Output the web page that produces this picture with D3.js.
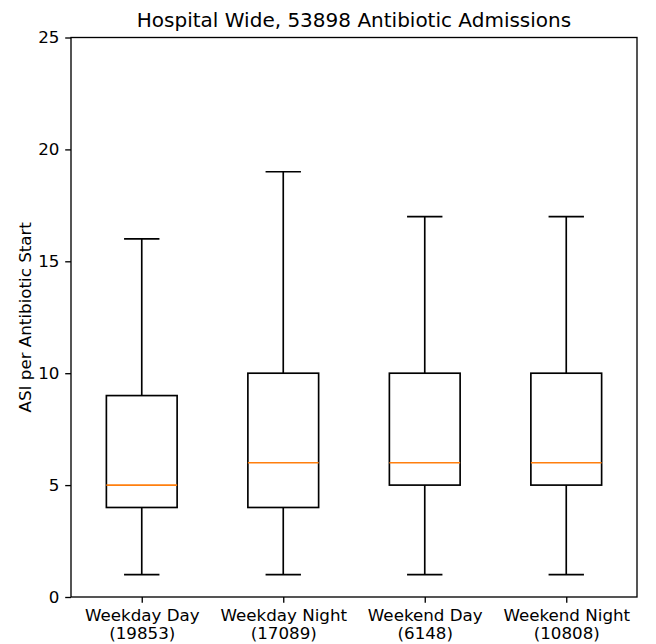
<!DOCTYPE html>
<html>
<head>
<meta charset="utf-8">
<script src="https://cdn.jsdelivr.net/npm/d3@7"></script>
<style>
  body { margin: 0; background: #fff; }
  svg { display: block; font-family: "DejaVu Sans", sans-serif; }
</style>
</head>
<body>
<div id="chart"></div>
<script>
const categories = ["Weekday Day", "Weekday Night", "Weekend Day", "Weekend Night"];
const counts = [19853, 17089, 6148, 10808];
const whiskerLow = [1, 1, 1, 1];
const quartile1 = [4, 4, 5, 5];
const medians = [5, 6, 6, 6];
const quartile3 = [9, 10, 10, 10];
const whiskerHigh = [16, 19, 17, 17];
const yTicks = [0, 5, 10, 15, 20, 25];

const width = 656, height = 644;
const margin = { top: 37.5, right: 19, bottom: 47, left: 71 };
const innerWidth = width - margin.left - margin.right;
const innerHeight = height - margin.top - margin.bottom;
const tickFont = 16.7;

const boxes = categories.map((name, i) => ({
  pos: i + 1,
  name,
  count: counts[i],
  lo: whiskerLow[i],
  q1: quartile1[i],
  med: medians[i],
  q3: quartile3[i],
  hi: whiskerHigh[i],
}));

const x = d3.scaleLinear().domain([0.5, 4.5]).range([0, innerWidth]);
const y = d3.scaleLinear().domain([0, 25]).range([innerHeight, 0]);
const unit = x(1) - x(0);

const svg = d3.select("#chart").append("svg")
  .attr("width", width).attr("height", height);
const root = svg.append("g")
  .attr("transform", `translate(${margin.left},${margin.top})`);

const g = root.selectAll(".box").data(boxes).join("g").attr("class", "box");
const stroke = "#000", sw = 1.67;

// whiskers
g.append("line")
  .attr("x1", d => x(d.pos)).attr("x2", d => x(d.pos))
  .attr("y1", d => y(d.lo)).attr("y2", d => y(d.q1))
  .attr("stroke", stroke).attr("stroke-width", sw);
g.append("line")
  .attr("x1", d => x(d.pos)).attr("x2", d => x(d.pos))
  .attr("y1", d => y(d.q3)).attr("y2", d => y(d.hi))
  .attr("stroke", stroke).attr("stroke-width", sw);
// caps
[d => d.lo, d => d.hi].forEach(acc => {
  g.append("line")
    .attr("x1", d => x(d.pos) - unit * 0.125).attr("x2", d => x(d.pos) + unit * 0.125)
    .attr("y1", d => y(acc(d))).attr("y2", d => y(acc(d)))
    .attr("stroke", stroke).attr("stroke-width", sw);
});
// box
g.append("rect")
  .attr("x", d => x(d.pos) - unit * 0.25)
  .attr("width", unit * 0.5)
  .attr("y", d => y(d.q3))
  .attr("height", d => y(d.q1) - y(d.q3))
  .attr("fill", "none").attr("stroke", stroke).attr("stroke-width", sw);
// median
g.append("line")
  .attr("x1", d => x(d.pos) - unit * 0.25).attr("x2", d => x(d.pos) + unit * 0.25)
  .attr("y1", d => y(d.med)).attr("y2", d => y(d.med))
  .attr("stroke", "#ff7f0e").attr("stroke-width", sw);

// axes frame
root.append("rect")
  .attr("width", innerWidth).attr("height", innerHeight)
  .attr("fill", "none").attr("stroke", "#000").attr("stroke-width", 1.33);

const yAxis = root.append("g")
  .call(d3.axisLeft(y).tickValues(yTicks).tickSize(5.8).tickPadding(5.8))
  .call(a => a.select(".domain").remove());
yAxis.selectAll("text").attr("font-size", tickFont).attr("font-family", "DejaVu Sans").attr("fill", "#000");
yAxis.selectAll("line").attr("stroke-width", 1.33);

const xAxis = root.append("g")
  .attr("transform", `translate(0,${innerHeight})`)
  .call(d3.axisBottom(x).tickValues(boxes.map(d => d.pos)).tickSize(5.8).tickFormat(() => ""))
  .call(a => a.select(".domain").remove());
xAxis.selectAll("line").attr("stroke-width", 1.33);
xAxis.selectAll(".tick").each(function (v, i) {
  const t = d3.select(this).select("text")
    .attr("font-size", tickFont).attr("font-family", "DejaVu Sans").attr("fill", "#000")
    .attr("y", 0).attr("dy", null);
  t.append("tspan").attr("x", 0).attr("y", 24).text(boxes[i].name);
  t.append("tspan").attr("x", 0).attr("y", 41.5).text(`(${boxes[i].count})`);
});

svg.append("text")
  .attr("x", margin.left + innerWidth / 2).attr("y", 27)
  .attr("text-anchor", "middle").attr("font-size", 20)
  .text("Hospital Wide, 53898 Antibiotic Admissions");

svg.append("text")
  .attr("transform", `translate(31,${margin.top + innerHeight / 2}) rotate(-90)`)
  .attr("text-anchor", "middle").attr("font-size", tickFont)
  .text("ASI per Antibiotic Start");
</script>
</body>
</html>
